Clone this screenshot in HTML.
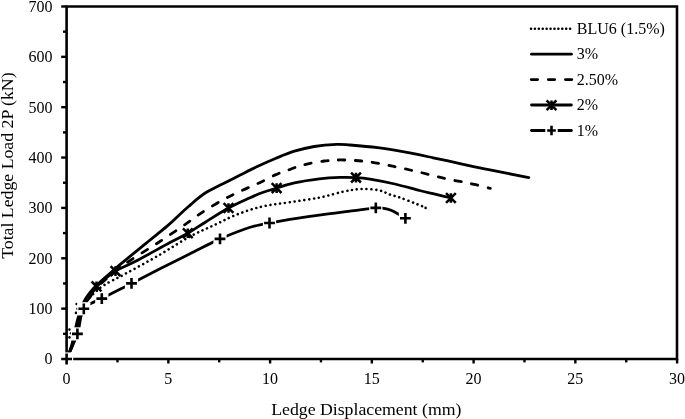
<!DOCTYPE html>
<html><head><meta charset="utf-8"><title>chart</title>
<style>
html,body{margin:0;padding:0;background:#fff;}
body{width:685px;height:419px;overflow:hidden;position:relative;font-family:"Liberation Serif",serif;color:#000;}
svg{position:absolute;left:0;top:0;will-change:transform;}
text{font-family:"Liberation Serif",serif;fill:#000;}
</style></head><body>
<svg width="685" height="419" viewBox="0 0 685 419">
<rect x="0" y="0" width="685" height="419" fill="#fff"/>

<path d="M66.6,6.5 H677 V359 H66.6 Z" fill="none" stroke="#000" stroke-width="2.6" stroke-linejoin="miter"/>
<path d="M61.2,359.00 H66.6" stroke="#000" stroke-width="2.4"/>
<text x="52.6" y="364.40" font-size="16" text-anchor="end">0</text>
<path d="M63,333.82 H66.6" stroke="#000" stroke-width="2.4"/>
<path d="M61.2,308.64 H66.6" stroke="#000" stroke-width="2.4"/>
<text x="52.6" y="314.04" font-size="16" text-anchor="end">100</text>
<path d="M63,283.46 H66.6" stroke="#000" stroke-width="2.4"/>
<path d="M61.2,258.28 H66.6" stroke="#000" stroke-width="2.4"/>
<text x="52.6" y="263.68" font-size="16" text-anchor="end">200</text>
<path d="M63,233.10 H66.6" stroke="#000" stroke-width="2.4"/>
<path d="M61.2,207.92 H66.6" stroke="#000" stroke-width="2.4"/>
<text x="52.6" y="213.32" font-size="16" text-anchor="end">300</text>
<path d="M63,182.74 H66.6" stroke="#000" stroke-width="2.4"/>
<path d="M61.2,157.56 H66.6" stroke="#000" stroke-width="2.4"/>
<text x="52.6" y="162.96" font-size="16" text-anchor="end">400</text>
<path d="M63,132.38 H66.6" stroke="#000" stroke-width="2.4"/>
<path d="M61.2,107.20 H66.6" stroke="#000" stroke-width="2.4"/>
<text x="52.6" y="112.60" font-size="16" text-anchor="end">500</text>
<path d="M63,82.02 H66.6" stroke="#000" stroke-width="2.4"/>
<path d="M61.2,56.84 H66.6" stroke="#000" stroke-width="2.4"/>
<text x="52.6" y="62.24" font-size="16" text-anchor="end">600</text>
<path d="M63,31.66 H66.6" stroke="#000" stroke-width="2.4"/>
<path d="M61.2,6.48 H66.6" stroke="#000" stroke-width="2.4"/>
<text x="52.6" y="11.88" font-size="16" text-anchor="end">700</text>
<path d="M66.60,359 V363.5" stroke="#000" stroke-width="2.4"/>
<text x="66.60" y="383.5" font-size="16" text-anchor="middle">0</text>
<path d="M117.47,359 V362.4" stroke="#000" stroke-width="2.4"/>
<path d="M168.35,359 V363.5" stroke="#000" stroke-width="2.4"/>
<text x="168.35" y="383.5" font-size="16" text-anchor="middle">5</text>
<path d="M219.22,359 V362.4" stroke="#000" stroke-width="2.4"/>
<path d="M270.10,359 V363.5" stroke="#000" stroke-width="2.4"/>
<text x="270.10" y="383.5" font-size="16" text-anchor="middle">10</text>
<path d="M320.98,359 V362.4" stroke="#000" stroke-width="2.4"/>
<path d="M371.85,359 V363.5" stroke="#000" stroke-width="2.4"/>
<text x="371.85" y="383.5" font-size="16" text-anchor="middle">15</text>
<path d="M422.73,359 V362.4" stroke="#000" stroke-width="2.4"/>
<path d="M473.60,359 V363.5" stroke="#000" stroke-width="2.4"/>
<text x="473.60" y="383.5" font-size="16" text-anchor="middle">20</text>
<path d="M524.48,359 V362.4" stroke="#000" stroke-width="2.4"/>
<path d="M575.35,359 V363.5" stroke="#000" stroke-width="2.4"/>
<text x="575.35" y="383.5" font-size="16" text-anchor="middle">25</text>
<path d="M626.23,359 V362.4" stroke="#000" stroke-width="2.4"/>
<path d="M677.10,359 V363.5" stroke="#000" stroke-width="2.4"/>
<text x="677.10" y="383.5" font-size="16" text-anchor="middle">30</text>
<text x="366.3" y="414.5" font-size="17.75" text-anchor="middle">Ledge Displacement (mm)</text>
<text transform="translate(13.2,165.6) rotate(-90)" font-size="17.75" text-anchor="middle">Total Ledge Load 2P (kN)</text>
<circle cx="69.5" cy="337.4" r="1.3" fill="#000"/>
<circle cx="71.0" cy="333.3" r="1.3" fill="#000"/>
<circle cx="69.5" cy="329.6" r="1.3" fill="#000"/>
<circle cx="76.0" cy="312.9" r="1.3" fill="#000"/>
<circle cx="77.6" cy="308.7" r="1.3" fill="#000"/>
<circle cx="76.6" cy="304.0" r="1.3" fill="#000"/>
<path d="M85.00,300.50 C86.17,299.58 88.87,297.53 92.00,295.00 C95.13,292.47 98.30,288.80 103.80,285.30 C109.30,281.80 115.63,279.12 125.00,274.00 C134.37,268.88 149.17,260.85 160.00,254.60 C170.83,248.35 180.67,241.55 190.00,236.50 C199.33,231.45 209.02,227.62 216.00,224.30 C222.98,220.98 226.32,218.98 231.90,216.60 C237.48,214.22 243.62,211.85 249.50,210.00 C255.38,208.15 260.45,206.80 267.20,205.50 C273.95,204.20 281.32,203.52 290.00,202.20 C298.68,200.88 310.30,199.38 319.30,197.60 C328.30,195.82 336.98,192.93 344.00,191.50 C351.02,190.07 355.60,189.20 361.40,189.00 C367.20,188.80 374.03,189.38 378.80,190.30 C383.57,191.22 386.50,193.30 390.00,194.50 C393.50,195.70 395.68,196.05 399.80,197.50 C403.92,198.95 410.37,201.50 414.70,203.20 C419.03,204.90 423.95,206.95 425.80,207.70" fill="none" stroke="#000" stroke-width="2.6" stroke-dasharray="0.01,4.859" stroke-linecap="round" stroke-dashoffset="4.10"/>
<circle cx="425.6" cy="207.9" r="1.3" fill="#000"/>
<path d="M66.60,359.00 C67.47,356.67 69.93,351.67 71.80,345.00 C73.67,338.33 75.80,326.17 77.80,319.00 C79.80,311.83 82.02,306.08 83.80,302.00 C85.58,297.92 86.38,297.28 88.50,294.50 C90.62,291.72 92.00,289.63 96.50,285.30 C101.00,280.97 111.18,272.28 115.50,268.50 C119.82,264.72 117.48,266.67 122.40,262.60 C127.32,258.53 137.50,250.22 145.00,244.10 C152.50,237.98 161.57,230.88 167.40,225.90 C173.23,220.92 176.43,217.47 180.00,214.20 C183.57,210.93 185.85,208.90 188.80,206.30 C191.75,203.70 194.97,200.82 197.70,198.60 C200.43,196.38 202.82,194.57 205.20,193.00 C207.58,191.43 209.03,190.73 212.00,189.20 C214.97,187.67 218.22,186.20 223.00,183.80 C227.78,181.40 234.80,177.77 240.70,174.80 C246.60,171.83 252.52,168.77 258.40,166.00 C264.28,163.23 270.00,160.67 276.00,158.20 C282.00,155.73 288.02,153.15 294.40,151.20 C300.78,149.25 307.27,147.63 314.30,146.50 C321.33,145.37 330.65,144.65 336.60,144.40 C342.55,144.15 343.15,144.45 350.00,145.00 C356.85,145.55 368.45,146.50 377.70,147.70 C386.95,148.90 396.25,150.52 405.50,152.20 C414.75,153.88 423.95,155.87 433.20,157.80 C442.45,159.73 451.75,161.82 461.00,163.80 C470.25,165.78 477.40,167.40 488.70,169.70 C500.00,172.00 522.12,176.28 528.80,177.60" fill="none" stroke="#000" stroke-width="2.8" stroke-linecap="round" stroke-linejoin="round"/>
<path d="M66.60,359.00 C67.52,356.67 70.12,351.62 72.10,345.00 C74.08,338.38 76.38,326.38 78.50,319.30 C80.62,312.22 82.95,306.50 84.80,302.50 C86.65,298.50 87.53,297.88 89.60,295.30 C91.67,292.72 92.88,291.05 97.20,287.00 C101.52,282.95 110.10,275.37 115.50,271.00 C120.90,266.63 122.45,265.55 129.60,260.80 C136.75,256.05 148.95,248.70 158.40,242.50 C167.85,236.30 179.07,228.58 186.30,223.60 C193.53,218.62 195.68,216.57 201.80,212.60 C207.92,208.63 216.52,203.40 223.00,199.80 C229.48,196.20 234.80,193.77 240.70,191.00 C246.60,188.23 252.52,185.93 258.40,183.20 C264.28,180.47 270.73,176.88 276.00,174.60 C281.27,172.32 285.68,171.05 290.00,169.50 C294.32,167.95 296.20,166.72 301.90,165.30 C307.60,163.88 317.18,161.88 324.20,161.00 C331.22,160.12 336.55,159.87 344.00,160.00 C351.45,160.13 360.43,160.68 368.90,161.80 C377.37,162.92 386.35,164.97 394.80,166.70 C403.25,168.43 411.33,170.25 419.60,172.20 C427.87,174.15 436.12,176.55 444.40,178.40 C452.68,180.25 461.65,181.65 469.30,183.30 C476.95,184.95 486.80,187.47 490.30,188.30" fill="none" stroke="#000" stroke-width="2.8" stroke-dasharray="6.4,10.53" stroke-linecap="round" stroke-dashoffset="16.43"/>
<path d="M66.60,359.00 C67.57,356.67 70.30,351.57 72.40,345.00 C74.50,338.43 76.97,326.60 79.20,319.60 C81.43,312.60 83.88,306.90 85.80,303.00 C87.72,299.10 88.92,298.97 90.70,296.20 C92.48,293.43 92.37,290.58 96.50,286.40 C100.63,282.22 108.98,275.28 115.50,271.10 C122.02,266.92 126.52,266.07 135.60,261.30 C144.68,256.53 161.30,247.18 170.00,242.50 C178.70,237.82 181.92,236.58 187.80,233.20 C193.68,229.82 198.52,226.40 205.30,222.20 C212.08,218.00 221.13,212.03 228.50,208.00 C235.87,203.97 243.93,200.53 249.50,198.00 C255.07,195.47 257.38,194.45 261.90,192.80 C266.42,191.15 271.18,189.75 276.60,188.10 C282.02,186.45 287.28,184.43 294.40,182.90 C301.52,181.37 311.70,179.82 319.30,178.90 C326.90,177.98 333.88,177.62 340.00,177.40 C346.12,177.18 351.00,177.32 356.00,177.60 C361.00,177.88 363.53,178.03 370.00,179.10 C376.47,180.17 386.53,182.10 394.80,184.00 C403.07,185.90 412.90,188.80 419.60,190.50 C426.30,192.20 429.78,192.95 435.00,194.20 C440.22,195.45 448.25,197.37 450.90,198.00" fill="none" stroke="#000" stroke-width="2.8" stroke-linecap="round" stroke-linejoin="round"/>
<path d="M91.60,281.50 l9.80,9.80 M91.60,291.30 l9.80,-9.80 M96.50,281.60 v9.60" stroke="#000" stroke-width="2.50" fill="none"/>
<path d="M110.60,266.20 l9.80,9.80 M110.60,276.00 l9.80,-9.80 M115.50,266.30 v9.60" stroke="#000" stroke-width="2.50" fill="none"/>
<path d="M182.90,228.30 l9.80,9.80 M182.90,238.10 l9.80,-9.80 M187.80,228.40 v9.60" stroke="#000" stroke-width="2.50" fill="none"/>
<path d="M223.60,203.10 l9.80,9.80 M223.60,212.90 l9.80,-9.80 M228.50,203.20 v9.60" stroke="#000" stroke-width="2.50" fill="none"/>
<path d="M271.70,183.20 l9.80,9.80 M271.70,193.00 l9.80,-9.80 M276.60,183.30 v9.60" stroke="#000" stroke-width="2.50" fill="none"/>
<path d="M351.10,172.70 l9.80,9.80 M351.10,182.50 l9.80,-9.80 M356.00,172.80 v9.60" stroke="#000" stroke-width="2.50" fill="none"/>
<path d="M446.00,193.10 l9.80,9.80 M446.00,202.90 l9.80,-9.80 M450.90,193.20 v9.60" stroke="#000" stroke-width="2.50" fill="none"/>
<path d="M66.60,359.00 C68.40,354.82 74.53,342.27 77.40,333.90 C80.27,325.53 79.73,314.68 83.80,308.80 C87.87,302.92 93.85,302.83 101.80,298.60 C109.75,294.37 121.80,288.37 131.50,283.40 C141.20,278.43 150.25,273.73 160.00,268.80 C169.75,263.87 180.00,258.78 190.00,253.80 C200.00,248.82 210.83,243.03 220.00,238.90 C229.17,234.77 238.83,231.23 245.00,229.00 C251.17,226.77 252.92,226.50 257.00,225.50 C261.08,224.50 264.00,224.02 269.50,223.00 C275.00,221.98 281.12,220.80 290.00,219.40 C298.88,218.00 312.80,215.97 322.80,214.60 C332.80,213.23 341.17,212.32 350.00,211.20 C358.83,210.08 370.13,208.38 375.80,207.90 C381.47,207.42 381.47,207.92 384.00,208.30 C386.53,208.68 388.55,209.22 391.00,210.20 C393.45,211.18 396.30,212.85 398.70,214.20 C401.10,215.55 404.28,217.62 405.40,218.30" fill="none" stroke="#000" stroke-width="2.8" stroke-linecap="round" stroke-linejoin="round"/>
<rect x="60.00" y="352.40" width="13.20" height="13.20" fill="#fff"/><path d="M61.20,359.00 h10.80 M66.60,353.60 v10.80" stroke="#000" stroke-width="2.60" fill="none"/>
<rect x="70.80" y="327.30" width="13.20" height="13.20" fill="#fff"/><path d="M72.00,333.90 h10.80 M77.40,328.50 v10.80" stroke="#000" stroke-width="2.60" fill="none"/>
<rect x="77.20" y="302.20" width="13.20" height="13.20" fill="#fff"/><path d="M78.40,308.80 h10.80 M83.80,303.40 v10.80" stroke="#000" stroke-width="2.60" fill="none"/>
<rect x="95.20" y="292.00" width="13.20" height="13.20" fill="#fff"/><path d="M96.40,298.60 h10.80 M101.80,293.20 v10.80" stroke="#000" stroke-width="2.60" fill="none"/>
<rect x="124.90" y="276.80" width="13.20" height="13.20" fill="#fff"/><path d="M126.10,283.40 h10.80 M131.50,278.00 v10.80" stroke="#000" stroke-width="2.60" fill="none"/>
<rect x="213.40" y="232.30" width="13.20" height="13.20" fill="#fff"/><path d="M214.60,238.90 h10.80 M220.00,233.50 v10.80" stroke="#000" stroke-width="2.60" fill="none"/>
<rect x="262.90" y="216.40" width="13.20" height="13.20" fill="#fff"/><path d="M264.10,223.00 h10.80 M269.50,217.60 v10.80" stroke="#000" stroke-width="2.60" fill="none"/>
<rect x="369.20" y="201.30" width="13.20" height="13.20" fill="#fff"/><path d="M370.40,207.90 h10.80 M375.80,202.50 v10.80" stroke="#000" stroke-width="2.60" fill="none"/>
<rect x="398.80" y="211.70" width="13.20" height="13.20" fill="#fff"/><path d="M400.00,218.30 h10.80 M405.40,212.90 v10.80" stroke="#000" stroke-width="2.60" fill="none"/>
<path d="M531,28.7 H571" stroke="#000" stroke-width="2.6" stroke-dasharray="0.01,3.9" stroke-linecap="round"/>
<path d="M531.5,54.2 H571.4" stroke="#000" stroke-width="2.8" stroke-linecap="round" stroke-linejoin="round"/>
<path d="M531.2,79.6 H572" stroke="#000" stroke-width="2.8" stroke-dasharray="6.4,10.7" stroke-linecap="round"/>
<path d="M531.5,105.0 H571.4" stroke="#000" stroke-width="2.8" stroke-linecap="round" stroke-linejoin="round"/>
<path d="M546.60,100.30 l9.80,9.80 M546.60,110.10 l9.80,-9.80 M551.50,100.40 v9.60" stroke="#000" stroke-width="2.50" fill="none"/>
<path d="M531.5,130.5 H571.4" stroke="#000" stroke-width="2.8" stroke-linecap="round" stroke-linejoin="round"/>
<rect x="545.30" y="124.30" width="12.40" height="12.40" fill="#fff"/><path d="M547.20,130.50 h8.60 M551.50,125.80 v9.40" stroke="#000" stroke-width="2.60" fill="none"/>
<text x="576.8" y="33.70" font-size="16">BLU6 (1.5%)</text>
<text x="576.8" y="59.20" font-size="16">3%</text>
<text x="576.8" y="84.60" font-size="16">2.50%</text>
<text x="576.8" y="110.00" font-size="16">2%</text>
<text x="576.8" y="135.50" font-size="16">1%</text>
</svg></body></html>
